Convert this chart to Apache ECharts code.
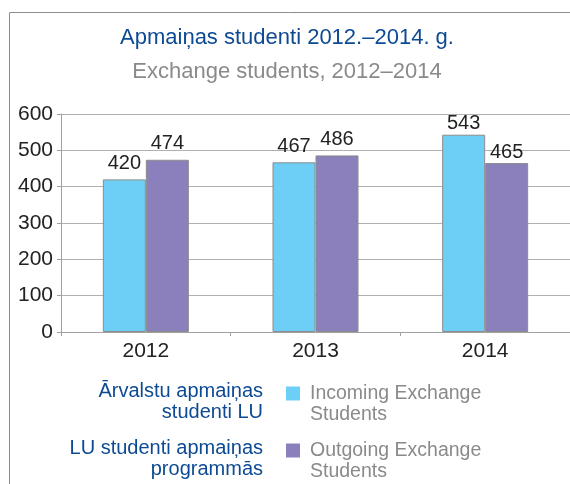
<!DOCTYPE html>
<html>
<head>
<meta charset="utf-8">
<script src="https://cdn.jsdelivr.net/npm/echarts@6/dist/echarts.min.js"></script>
<style>
  html, body { margin: 0; background: #fff; }
  #myChart { width: 570px; height: 484px; }
</style>
</head>
<body>
<div id="myChart"></div>
<script>
// dati
const years = ['2012', '2013', '2014']
const incoming = [420, 467, 543]
const outgoing = [474, 486, 465]
const seriesNames = ['Incoming Exchange\nStudents', 'Outgoing Exchange\nStudents']
const lvNames = ['Ārvalstu apmaiņas\nstudenti LU', 'LU studenti apmaiņas\nprogrammās']

const font = 'Liberation Sans, Arial, sans-serif'
const blue = '#0d4a94'
const grey = '#8a8a8a'

const legendText = {
  color: grey,
  fontSize: 19.5,
  fontFamily: font,
  lineHeight: 21,
  padding: [0, 0, 0, 5]
}

// tukšā pirmā rinda, lai ikona būtu pie pirmās teksta rindas
const legendFormatter = name => '\n' + name

// 2014. gada uzraksti oriģinālā ir tuvāk stabiņiem
const withLabels = values => values.map((v, i) => (i === 2 ? { value: v, label: { distance: 1 } } : v))

const valueLabel = { show: true, position: 'top', distance: 6, color: '#222', fontSize: 20, fontFamily: font }

const option = {
  animation: false,
  title: {
    text: 'Apmaiņas studenti 2012.–2014. g.',
    subtext: 'Exchange students, 2012–2014',
    left: 282,
    top: 22,
    textAlign: 'center',
    itemGap: 12,
    textStyle: { color: blue, fontSize: 22, fontWeight: 'normal', fontFamily: font },
    subtextStyle: { color: grey, fontSize: 22, fontFamily: font }
  },
  grid: {
    left: 61,
    top: 114,
    width: 512,
    height: 218
  },
  legend: [
    {
      data: [seriesNames[0]],
      formatter: legendFormatter,
      left: 286,
      top: 362,
      padding: 0,
      itemWidth: 14,
      itemHeight: 14,
      icon: 'rect',
      itemStyle: { borderWidth: 0 },
      textStyle: legendText
    },
    {
      data: [seriesNames[1]],
      formatter: legendFormatter,
      left: 286,
      top: 419,
      padding: 0,
      itemWidth: 14,
      itemHeight: 14,
      icon: 'rect',
      itemStyle: { borderWidth: 0 },
      textStyle: legendText
    }
  ],
  xAxis: {
    type: 'category',
    data: years,
    axisLine: { lineStyle: { color: '#a0a0a0' } },
    axisTick: { show: true, length: 4, lineStyle: { color: '#a0a0a0' } },
    axisLabel: { color: '#222', fontSize: 21, fontFamily: font, margin: 9 }
  },
  yAxis: {
    type: 'value',
    min: 0,
    max: 600,
    interval: 100,
    axisLine: { show: true, lineStyle: { color: '#a0a0a0' } },
    axisTick: { show: true, length: 4, lineStyle: { color: '#a0a0a0' } },
    axisLabel: { color: '#222', fontSize: 21, fontFamily: font, margin: 8 },
    splitLine: { lineStyle: { color: '#b0b0b0' } }
  },
  series: [
    {
      name: seriesNames[0],
      type: 'bar',
      data: withLabels(incoming),
      barWidth: 43,
      barGap: '0%',
      itemStyle: { color: '#6dcff6', borderColor: '#8c8c8c', borderWidth: 1 },
      label: valueLabel
    },
    {
      name: seriesNames[1],
      type: 'bar',
      data: withLabels(outgoing),
      barWidth: 43,
      barGap: '0%',
      itemStyle: { color: '#8b80bc', borderColor: '#8c8c8c', borderWidth: 1 },
      label: valueLabel
    }
  ],
  graphic: [
    // rāmis
    { type: 'polyline', shape: { points: [[9.5, 484], [9.5, 12.5], [570, 12.5]] }, style: { stroke: '#8c8c8c', lineWidth: 1, fill: null } },
    { type: 'text', x: 263, y: 381, style: { text: lvNames[0], textAlign: 'right', fill: blue, fontSize: 20, fontFamily: font, lineHeight: 21 } },
    { type: 'text', x: 263, y: 438, style: { text: lvNames[1], textAlign: 'right', fill: blue, fontSize: 20, fontFamily: font, lineHeight: 21 } }
  ]
}

const myChart = echarts.init(document.getElementById('myChart'))
myChart.setOption(option)
</script>
</body>
</html>
